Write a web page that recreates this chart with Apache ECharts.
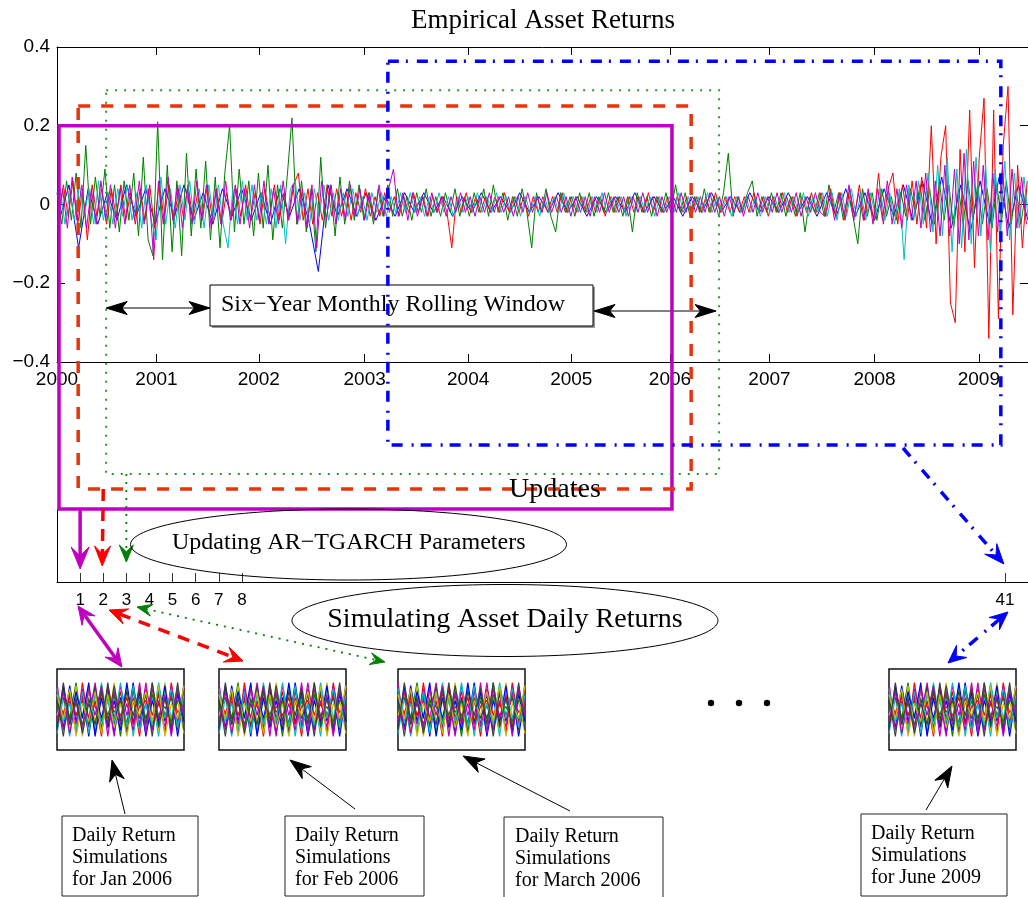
<!DOCTYPE html>
<html>
<head>
<meta charset="utf-8">
<script src="https://cdn.jsdelivr.net/npm/echarts@6/dist/echarts.min.js"></script>
<style>
html,body{margin:0;padding:0;background:#fff;}
#c{width:1028px;height:897px;}
</style>
</head>
<body>
<div id="c"></div>
<script>
// ---- Time axis: trading-day index, with the first trading day of each year ----
const yearLabels = ['2000','2001','2002','2003','2004','2005','2006','2007','2008','2009'];
const yearStart  = [0, 249, 505, 770, 1029, 1287, 1534, 1783, 2046, 2307];
const dayMax = 2430;
const stepMain = 12;   // trading days between stored returns
const stepBlue = 24;

// ---- Daily returns of the five assets ----
const retBlue = [
 -0.04,0.05,-0.11,0.04,-0.05,0.03,-0.04,0.05,-0.03,0.04,
 -0.05,0.04,-0.03,0.05,-0.04,0.03,-0.05,0.04,-0.03,0.04,
 -0.04,0.03,-0.05,0.04,-0.03,0.04,-0.04,-0.17,0.05,-0.03,
 0.04,-0.03,0.03,-0.04,0.02,-0.03,0.03,-0.02,0.03,-0.02,
 0.02,-0.03,0.02,-0.02,0.03,-0.02,0.02,-0.02,0.03,-0.02,
 0.02,-0.02,0.03,-0.02,0.02,-0.03,0.02,-0.02,0.02,-0.02,
 0.03,-0.02,0.02,-0.02,0.02,-0.03,0.02,-0.02,0.03,-0.02,
 0.02,-0.02,0.03,-0.02,0.02,-0.02,0.03,-0.02,0.02,-0.03,
 0.03,-0.03,0.04,-0.03,0.03,-0.04,0.04,-0.03,0.05,-0.04,
 0.06,-0.05,0.07,-0.06,0.05,-0.07,0.06,-0.05,0.07,-0.06,
 0.05,-0.04
];
const retGreen = [
 0.03,-0.05,0.06,-0.04,0.08,-0.06,0.15,-0.05,0.07,-0.03,
 0.09,-0.06,0.05,-0.07,0.06,-0.04,0.08,-0.08,0.12,-0.09,
 -0.13,0.21,-0.14,0.10,-0.12,0.06,-0.13,0.13,-0.08,0.09,
 -0.06,0.11,-0.09,0.07,-0.11,0.08,0.20,-0.07,0.09,-0.05,
 0.06,-0.08,0.08,-0.06,0.10,-0.09,0.05,-0.06,0.07,0.22,
 -0.05,0.06,-0.07,0.04,-0.12,0.12,-0.06,0.05,-0.08,0.07,
 -0.05,0.06,-0.04,0.05,-0.04,0.03,-0.05,0.04,-0.03,0.05,
 -0.03,0.04,-0.03,0.02,-0.04,0.03,-0.02,0.04,-0.03,0.02,
 -0.03,0.03,-0.02,0.04,-0.03,0.02,-0.03,0.03,-0.02,0.04,
 -0.03,0.05,-0.02,0.03,-0.04,0.02,-0.03,0.04,-0.02,-0.11,
 0.03,-0.02,0.04,-0.03,-0.07,0.03,-0.02,0.02,-0.03,0.03,
 -0.02,0.03,-0.03,0.02,-0.02,0.03,-0.02,0.02,-0.03,0.02,
 -0.07,0.03,-0.02,0.02,-0.03,0.02,-0.02,0.03,-0.02,0.05,
 -0.02,0.03,-0.03,0.02,-0.02,0.04,-0.02,0.02,-0.03,0.03,
 0.13,-0.03,0.02,-0.02,0.03,0.06,-0.03,0.02,-0.02,0.03,
 -0.02,0.03,-0.03,0.02,-0.03,0.03,-0.07,0.02,-0.02,0.03,
 -0.03,0.05,-0.02,0.03,-0.04,0.03,-0.03,-0.10,0.04,-0.03,
 0.03,-0.04,0.04,-0.03,0.02,-0.04,0.03,-0.03,0.04,-0.02,
 0.05,-0.04,0.04,-0.05,0.06,-0.04,0.05,-0.06,0.04,-0.05,
 0.06,-0.04,0.05,-0.05,0.04,-0.06,0.05,-0.04,0.06,-0.05,
 0.04,-0.05,0.03
];
const retRed = [
 -0.04,0.05,-0.03,0.06,-0.05,0.04,-0.09,0.05,-0.03,0.04,
 -0.05,0.04,-0.03,0.05,-0.04,0.03,-0.05,0.04,-0.04,0.05,
 -0.06,0.06,-0.04,0.05,-0.05,0.04,-0.03,0.05,-0.04,0.03,
 -0.04,0.05,-0.03,0.04,-0.05,0.03,-0.04,0.04,-0.03,0.05,
 -0.04,0.03,-0.05,0.04,-0.03,0.05,-0.04,0.03,-0.04,0.05,
 0.08,-0.04,0.04,-0.05,0.03,-0.04,0.05,-0.03,0.04,-0.03,
 0.03,-0.04,0.03,-0.02,0.04,-0.03,0.02,-0.03,0.03,-0.02,
 0.02,-0.03,0.02,-0.02,0.03,-0.02,0.02,-0.03,0.02,-0.02,
 0.02,-0.02,-0.11,0.02,-0.02,0.03,-0.02,0.02,-0.02,0.02,
 -0.02,0.02,-0.02,0.03,-0.02,0.02,-0.02,0.02,-0.03,0.02,
 -0.02,0.02,-0.02,0.02,-0.02,0.03,-0.02,0.02,-0.02,0.02,
 -0.02,0.02,-0.02,0.02,-0.03,0.02,-0.02,0.02,-0.02,0.02,
 -0.02,0.02,-0.02,0.03,-0.02,0.02,-0.02,0.02,-0.02,0.02,
 -0.02,0.02,-0.03,0.02,-0.02,0.02,-0.02,0.03,-0.02,0.02,
 -0.02,0.02,-0.02,0.02,-0.02,0.03,-0.02,0.02,-0.03,0.02,
 -0.02,0.03,-0.02,0.02,-0.03,0.02,-0.02,0.03,-0.02,0.03,
 -0.03,0.04,-0.03,0.03,-0.04,0.04,-0.03,0.05,-0.04,0.03,
 -0.04,0.08,-0.05,0.04,0.08,-0.05,0.05,-0.04,0.06,-0.05,
 0.07,-0.06,0.20,-0.10,0.12,0.20,-0.25,-0.30,0.14,-0.12,
 0.24,-0.16,0.12,0.27,-0.34,0.24,-0.29,0.15,0.30,-0.28,
 0.10,-0.11,0.06
];
const retCyan = [
 0.04,-0.05,0.03,-0.04,0.05,-0.03,0.04,-0.05,0.06,-0.04,
 0.03,-0.05,0.04,-0.03,0.05,-0.04,0.03,-0.06,0.05,-0.04,
 -0.09,0.07,-0.05,0.04,-0.06,0.05,-0.04,0.06,-0.05,0.04,
 -0.06,0.05,-0.04,0.05,-0.05,-0.11,0.04,-0.05,0.06,-0.04,
 0.05,-0.04,0.03,-0.05,0.04,-0.06,0.05,-0.10,0.04,0.06,
 -0.04,0.03,-0.05,0.04,-0.03,0.05,-0.04,0.03,-0.04,0.03,
 -0.03,0.04,-0.03,0.02,-0.04,0.03,-0.02,0.03,-0.03,0.02,
 -0.02,0.03,-0.02,0.03,-0.02,0.02,-0.03,0.02,-0.02,0.03,
 -0.02,0.02,-0.03,0.02,-0.02,0.02,-0.02,0.03,-0.02,0.02,
 -0.02,0.03,-0.02,0.02,-0.02,0.02,-0.03,0.02,-0.02,0.02,
 -0.03,0.02,-0.02,0.02,-0.02,0.03,-0.02,0.02,-0.02,0.02,
 -0.02,0.02,-0.02,0.03,-0.02,0.02,-0.02,0.02,-0.03,0.02,
 -0.02,0.02,-0.02,0.02,-0.03,0.02,-0.02,0.02,-0.02,0.03,
 -0.02,0.02,-0.02,0.02,-0.02,0.03,-0.02,0.02,-0.02,0.02,
 -0.03,0.02,-0.02,0.02,-0.02,0.02,-0.03,0.02,-0.02,0.02,
 -0.02,0.03,-0.02,0.02,-0.02,0.03,-0.03,0.02,-0.02,0.03,
 -0.03,0.03,-0.04,0.03,-0.03,0.04,-0.03,0.03,-0.04,0.03,
 -0.03,0.04,-0.04,0.03,-0.05,0.04,-0.14,0.05,-0.04,0.06,
 -0.05,0.08,-0.07,0.10,-0.08,0.12,-0.12,0.09,-0.11,0.14,
 -0.10,0.12,-0.08,0.10,-0.12,0.09,-0.07,0.11,-0.09,0.08,
 -0.06,0.07,-0.05
];
const retMagenta = [
 -0.05,0.04,-0.06,0.07,-0.04,0.05,-0.06,0.04,-0.05,0.06,
 -0.04,0.05,-0.06,0.04,-0.05,0.05,-0.04,0.06,-0.05,0.04,
 -0.14,0.06,-0.05,0.07,-0.04,0.05,-0.06,0.04,-0.05,0.06,
 -0.04,0.05,-0.06,0.04,-0.05,0.06,-0.04,0.05,-0.05,0.04,
 -0.06,0.05,-0.04,0.06,-0.05,0.04,-0.05,0.06,-0.04,0.05,
 -0.05,0.04,-0.06,0.05,-0.11,0.06,-0.04,0.05,-0.05,0.04,
 -0.04,0.05,-0.03,0.04,-0.04,0.03,-0.04,0.05,-0.03,0.04,
 0.09,-0.03,0.03,-0.04,0.03,-0.03,0.02,-0.03,0.03,-0.02,
 0.02,-0.03,0.02,-0.02,0.03,-0.02,0.02,-0.03,0.02,-0.02,
 0.03,-0.02,0.02,-0.02,0.02,-0.03,0.02,-0.02,0.03,-0.02,
 0.02,-0.02,0.03,-0.02,0.02,-0.02,0.02,-0.03,0.02,-0.02,
 0.02,-0.03,0.02,-0.02,0.03,-0.02,0.02,-0.02,0.02,-0.03,
 0.02,-0.02,0.03,-0.02,0.02,-0.03,0.02,-0.02,0.02,-0.02,
 0.03,-0.02,0.02,-0.02,0.02,-0.02,0.03,-0.02,0.02,-0.03,
 0.02,-0.02,0.02,-0.03,0.02,-0.02,0.03,-0.02,0.02,-0.02,
 0.03,-0.02,0.02,-0.02,0.03,-0.03,0.02,-0.02,0.03,-0.02,
 -0.03,0.03,-0.04,0.03,-0.03,0.05,-0.04,0.03,-0.04,0.04,
 -0.05,0.04,-0.04,0.06,-0.05,0.04,-0.06,0.05,-0.04,0.06,
 -0.06,0.08,-0.07,0.06,-0.08,0.10,-0.08,0.09,-0.10,0.13,
 -0.09,0.11,-0.08,0.10,-0.09,0.08,-0.07,0.10,-0.08,0.09,
 -0.06,0.07,-0.05
];

// ---- Rolling estimation windows (start day, level of the top edge) ----
const windowStart = [5, 53, 123, 828];
const windowTop   = [0.2, 0.25, 0.29, 0.364];
const windowSpan  = yearStart[6] - yearStart[0];   // six years

// ---- Parameter updates ----
const updateTicks = [1, 2, 3, 4, 5, 6, 7, 8, 41];
const updateMax = 42;

// ---- Simulated daily return paths shown in each small panel ----
const simPaths = [
 [0.3,-0.6,0.8,-0.4,0.5,-0.9,0.6,-0.3,0.7,-0.8,0.4,-0.5,0.9,-0.6,0.2,-0.7,0.8,-0.4,0.6,-0.9,0.5],
 [-0.5,0.7,-0.3,0.9,-0.7,0.4,-0.8,0.6,-0.2,0.5,-0.9,0.7,-0.4,0.3,-0.8,0.9,-0.5,0.4,-0.7,0.6,-0.3],
 [0.6,-0.2,0.5,-0.8,0.9,-0.5,0.3,-0.9,0.8,-0.3,0.6,-0.7,0.4,-0.9,0.7,-0.2,0.5,-0.8,0.9,-0.4,0.7],
 [-0.8,0.4,-0.9,0.5,-0.2,0.8,-0.6,0.9,-0.4,0.7,-0.3,0.8,-0.9,0.5,-0.6,0.4,-0.9,0.7,-0.3,0.8,-0.6],
 [0.9,-0.7,0.3,-0.5,0.7,-0.3,0.9,-0.6,0.4,-0.9,0.8,-0.2,0.6,-0.5,0.9,-0.7,0.3,-0.6,0.8,-0.5,0.4],
 [-0.2,0.5,-0.7,0.8,-0.9,0.6,-0.4,0.3,-0.7,0.9,-0.6,0.5,-0.3,0.8,-0.4,0.6,-0.7,0.9,-0.5,0.3,-0.8],
 [0.4,-0.9,0.6,-0.2,0.4,-0.6,0.8,-0.7,0.9,-0.5,0.3,-0.8,0.7,-0.3,0.5,-0.9,0.6,-0.2,0.4,-0.7,0.9],
 [-0.6,0.8,-0.5,0.6,-0.3,0.9,-0.9,0.4,-0.6,0.3,-0.7,0.9,-0.5,0.6,-0.9,0.3,-0.4,0.8,-0.8,0.5,-0.4],
 [0.1,0.4,-0.3,0.2,-0.5,0.3,0.1,-0.4,0.5,-0.1,0.3,-0.5,0.2,0.4,-0.3,0.5,-0.2,0.1,-0.4,0.3,0.2],
 [-0.3,-0.1,0.4,-0.2,0.3,-0.4,0.2,0.5,-0.3,0.1,-0.2,0.4,-0.5,0.1,0.3,-0.4,0.2,-0.3,0.5,-0.1,0.2],
 [0.7,-0.4,0.2,-0.7,0.6,-0.8,0.5,-0.5,0.3,-0.4,0.9,-0.6,0.8,-0.7,0.2,-0.5,0.9,-0.3,0.7,-0.6,0.5],
 [-0.4,0.6,-0.8,0.3,-0.6,0.7,-0.2,0.8,-0.9,0.6,-0.5,0.2,-0.7,0.9,-0.8,0.7,-0.3,0.5,-0.9,0.7,-0.2],
 [0.5,-0.3,0.7,-0.9,0.2,-0.4,0.6,-0.8,0.5,-0.6,0.2,-0.9,0.3,-0.2,0.6,-0.4,0.8,-0.9,0.2,-0.3,0.8],
 [-0.7,0.9,-0.5,0.4,-0.8,0.2,-0.5,0.7,-0.5,0.8,-0.4,0.6,-0.2,0.7,-0.5,0.9,-0.6,0.4,-0.6,0.9,-0.7]
];
const simMonths = ['Jan 2006', 'Feb 2006', 'March 2006', 'June 2009'];

// ---- Styling ----
const serif = '"Liberation Serif","Times New Roman",serif';
const sans = '"Liberation Sans",Arial,sans-serif';
const assetColors = ['#0000ff', '#008000', '#ff0000', '#00bfbf', '#bf00bf'];
const assetOffset = [6, 0, 4, 8, 2];   // each asset's first stored day
const pathColors = ['#0000ff', '#008000', '#ff0000', '#00bfbf', '#bf00bf', '#bfbf00', '#404040'];
const thumbLeft = [57, 219, 398, 889];

const chart = echarts.init(document.getElementById('c'), null, {renderer: 'canvas'});

const black = {color: '#000', width: 1};
const yFmt = v => Math.abs(v) < 1e-9 ? '0' : (v < 0 ? '\u2212' : '') + Math.abs(v).toFixed(1);
const toPts = (arr, step, off) => arr.map((v, i) => [off + i * step, v]);

const grids = [
  {left: 57, top: 47, width: 971, height: 315},
  {left: 57, top: 509, width: 971, height: 73}
];
const xAxes = [
  {gridIndex: 0, type: 'value', min: 0, max: dayMax,
   axisLine: {show: true, onZero: false, lineStyle: black},
   axisTick: {show: true, inside: true, length: 8, customValues: yearStart, lineStyle: black},
   axisLabel: {customValues: yearStart, formatter: v => yearLabels[yearStart.indexOf(v)],
               color: '#000', fontSize: 19, fontFamily: sans, margin: 8},
   splitLine: {show: false}},
  {gridIndex: 0, type: 'value', position: 'top', min: 0, max: dayMax,
   axisLine: {show: true, onZero: false, lineStyle: black},
   axisTick: {show: true, inside: true, length: 8, customValues: yearStart, lineStyle: black},
   axisLabel: {show: false}, splitLine: {show: false}},
  {gridIndex: 1, type: 'value', min: 0, max: updateMax,
   axisLine: {show: true, onZero: false, lineStyle: black},
   axisTick: {show: true, inside: true, length: 9, customValues: updateTicks, lineStyle: {color: '#333', width: 1}},
   axisLabel: {customValues: updateTicks, color: '#000', fontSize: 17, fontFamily: sans, margin: 10},
   splitLine: {show: false}}
];
const yAxes = [
  {gridIndex: 0, type: 'value', min: -0.4, max: 0.4, interval: 0.2,
   axisLine: {show: true, onZero: false, lineStyle: black},
   axisTick: {show: true, inside: true, length: 8, lineStyle: black},
   axisLabel: {formatter: yFmt, color: '#000', fontSize: 19, fontFamily: sans, margin: 7},
   splitLine: {show: false}},
  {gridIndex: 0, type: 'value', position: 'right', min: -0.4, max: 0.4, interval: 0.2,
   axisLine: {show: true, onZero: false, lineStyle: black},
   axisTick: {show: true, inside: true, length: 8, lineStyle: black},
   axisLabel: {show: false}, splitLine: {show: false}},
  {gridIndex: 1, type: 'value', min: 0, max: 1,
   axisLine: {show: true, onZero: false, lineStyle: black},
   axisTick: {show: false}, axisLabel: {show: false}, splitLine: {show: false}}
];

const series = [];
[[retBlue, stepBlue], [retGreen, stepMain], [retRed, stepMain], [retCyan, stepMain], [retMagenta, stepMain]]
  .forEach(([arr, step], k) => {
    series.push({type: 'line', xAxisIndex: 0, yAxisIndex: 0, data: toPts(arr, step, assetOffset[k]),
      symbol: 'none', clip: true, lineStyle: {color: assetColors[k], width: 1}, z: 2 + k});
  });

thumbLeft.forEach((left, g) => {
  grids.push({left, top: 669, width: 127, height: 81, show: true,
              borderColor: '#111', borderWidth: 1.5, backgroundColor: '#fff'});
  xAxes.push({gridIndex: 2 + g, type: 'value', min: 0, max: simPaths[0].length - 1, show: false});
  yAxes.push({gridIndex: 2 + g, type: 'value', min: -1.35, max: 1.35, show: false});
  simPaths.forEach((p, k) => {
    series.push({type: 'line', xAxisIndex: 3 + g, yAxisIndex: 3 + g,
      data: p.map((v, i) => [i, v]), symbol: 'none', clip: true,
      lineStyle: {color: pathColors[k % pathColors.length], width: 1.2}});
  });
});

chart.setOption({
  animation: false,
  backgroundColor: '#fff',
  grid: grids, xAxis: xAxes, yAxis: yAxes, series
});

// ---- Annotations: windows, arrows, captions ----
const px = v => chart.convertToPixel({xAxisIndex: 0}, v);
const py = v => chart.convertToPixel({yAxisIndex: 0}, v);
const ux = v => chart.convertToPixel({xAxisIndex: 2}, v);

function arrowEls(x1, y1, x2, y2, o) {
  const els = [];
  const dx = x2 - x1, dy = y2 - y1, L = Math.hypot(dx, dy);
  const vx = dx / L, vy = dy / L;
  const len = o.len || 14, half = o.half || 6, notch = o.notch == null ? 0.65 : o.notch;
  const head = (tx, ty, ax, ay) => {
    const nx = -ay, ny = ax;
    const bx = tx - ax * len, by = ty - ay * len;
    const cx = tx - ax * len * notch, cy = ty - ay * len * notch;
    return {type: 'polygon', z: o.z || 120,
      shape: {points: [[tx, ty], [bx + nx * half, by + ny * half], [cx, cy], [bx - nx * half, by - ny * half]]},
      style: {fill: o.color, stroke: o.color, lineWidth: 1}};
  };
  let sx = x1, sy = y1, ex = x2, ey = y2;
  if (o.end) { ex = x2 - vx * len * notch; ey = y2 - vy * len * notch; els.push(head(x2, y2, vx, vy)); }
  if (o.start) { sx = x1 + vx * len * notch; sy = y1 + vy * len * notch; els.push(head(x1, y1, -vx, -vy)); }
  els.unshift({type: 'line', z: o.z || 120, shape: {x1: sx, y1: sy, x2: ex, y2: ey},
    style: {stroke: o.color, lineWidth: o.width, lineDash: o.dash || null, lineCap: 'butt'}});
  return els;
}
function textEl(text, x, y, size, align, family) {
  return {type: 'text', x, y, z: 130,
    style: {text, fill: '#000', fontSize: size, fontFamily: family || serif,
            align: align || 'center', textAlign: align || 'center',
            verticalAlign: 'middle', textVerticalAlign: 'middle'}};
}

const g = [];

// Title
g.push(textEl('Empirical Asset Returns', 543, 21, 27));

// Six-year window caption with its span arrows
g.push({type: 'rect', z: 104, shape: {x: 212, y: 287, width: 383, height: 41}, style: {fill: '#999', stroke: null}});
g.push({type: 'rect', z: 105, shape: {x: 210, y: 285, width: 383, height: 41}, style: {fill: '#fff', stroke: '#000', lineWidth: 1}});
g.push(textEl('Six\u2212Year Monthly Rolling Window', 221, 305, 24, 'left'));
g.push(...arrowEls(px(windowStart[2]), 308, 210, 308, {color: '#000', width: 1, start: true, end: true, len: 21, half: 6.5, notch: 0.75, z: 106}));
g.push(...arrowEls(594, 311, px(windowStart[2] + windowSpan) - 3, 311, {color: '#000', width: 1, start: true, end: true, len: 21, half: 6.5, notch: 0.75, z: 106}));

// Rolling windows: magenta, red, green, blue
const winStyle = [
  {stroke: '#c000c0', lineWidth: 3.5, lineDash: null},
  {stroke: '#e8340c', lineWidth: 3.5, lineDash: [12, 11]},
  {stroke: '#2a962a', lineWidth: 2, lineDash: [2, 7]},
  {stroke: '#0000ff', lineWidth: 3.5, lineDash: [11, 7, 2, 9]}
];
const winBottom = [509, 489, 474, 445];
windowStart.forEach((s, i) => {
  const x1 = px(s), x2 = px(s + windowSpan), y1 = py(windowTop[i]);
  g.push({type: 'rect', z: 110 + i, shape: {x: x1, y: y1, width: x2 - x1, height: winBottom[i] - y1},
          style: Object.assign({fill: 'none'}, winStyle[i])});
});

// Updates panel
g.push(textEl('Updates', 555, 490, 28));
g.push({type: 'ellipse', z: 125, shape: {cx: 348.5, cy: 544.5, rx: 218, ry: 35.5}, style: {fill: 'none', stroke: '#000', lineWidth: 1}});
g.push(textEl('Updating AR\u2212TGARCH Parameters', 172, 543, 24, 'left'));

// Windows feeding the parameter updates
g.push(...arrowEls(ux(1), 509, ux(1), 569, {color: '#c000c0', width: 3.5, end: true, len: 22, half: 9, notch: 0.6}));
g.push(...arrowEls(ux(2), 489, ux(2) - 1, 566, {color: '#ff0000', width: 3.5, dash: [12, 8], end: true, len: 20, half: 8, notch: 0.6}));
g.push(...arrowEls(ux(3), 474, ux(3), 562, {color: '#008000', width: 1.8, dash: [2, 6], end: true, len: 17, half: 7, notch: 0.6}));
g.push(...arrowEls(903, 448, ux(41) - 1, 564, {color: '#0000ff', width: 3.5, dash: [11, 7, 2, 9], end: true, len: 20, half: 8, notch: 0.6}));

// Simulation step
g.push({type: 'ellipse', z: 125, shape: {cx: 505, cy: 620.5, rx: 213, ry: 36}, style: {fill: 'none', stroke: '#000', lineWidth: 1}});
g.push(textEl('Simulating Asset Daily Returns', 505, 620, 28));

g.push(...arrowEls(78, 606, 122, 667, {color: '#c000c0', width: 3.5, start: true, end: true, len: 18, half: 8, notch: 0.6}));
g.push(...arrowEls(109, 610, 243, 661, {color: '#ff0000', width: 3.5, dash: [12, 9], start: true, end: true, len: 18, half: 8, notch: 0.6}));
g.push(...arrowEls(137, 607, 385, 662, {color: '#008000', width: 1.8, dash: [2, 6], start: true, end: true, len: 15, half: 6, notch: 0.6}));
g.push(...arrowEls(1008, 612, 948, 663, {color: '#0000ff', width: 3.5, dash: [11, 7, 2, 9], start: true, end: true, len: 18, half: 8, notch: 0.6}));

// Ellipsis between the panels
[711, 739, 767].forEach(x => g.push({type: 'circle', z: 125, shape: {cx: x, cy: 703, r: 3.2}, style: {fill: '#000'}}));

// Caption boxes under each simulation panel
const capBox = [
  {x: 62, y: 816, w: 136, h: 80, tx: 72, tip: [112, 760], tail: [125, 814]},
  {x: 285, y: 816, w: 139, h: 80, tx: 295, tip: [290, 760], tail: [355, 809]},
  {x: 504, y: 817, w: 159, h: 84, tx: 515, tip: [463, 756], tail: [570, 811]},
  {x: 861, y: 814, w: 146, h: 82, tx: 871, tip: [952, 766], tail: [926, 810]}
];
capBox.forEach((b, i) => {
  g.push({type: 'rect', z: 125, shape: {x: b.x, y: b.y, width: b.w, height: b.h}, style: {fill: '#fff', stroke: '#222', lineWidth: 1}});
  const lines = ['Daily Return', 'Simulations', 'for ' + simMonths[i]];
  lines.forEach((t, j) => g.push(textEl(t, b.tx, b.y + 20 + j * 22, 20, 'left')));
  g.push(...arrowEls(b.tail[0], b.tail[1], b.tip[0], b.tip[1], {color: '#000', width: 1, end: true, len: 21, half: 7.5, notch: 0.7}));
});

chart.setOption({graphic: {elements: g}});
</script>
</body>
</html>
